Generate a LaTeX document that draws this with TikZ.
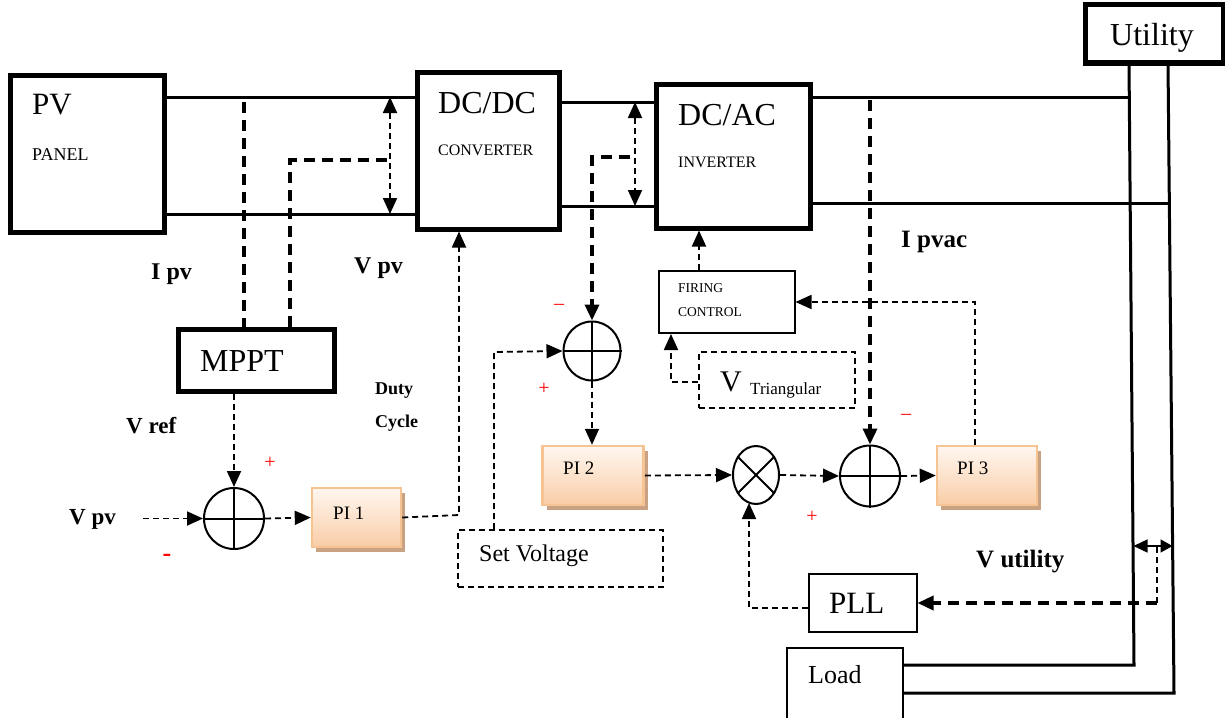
\documentclass[tikz,border=0pt]{standalone}
\usepackage{fontspec}
\setmainfont{Liberation Serif}
\usetikzlibrary{shapes.geometric,arrows.meta,shadows}
\definecolor{pitop}{HTML}{FFF7F0}
\definecolor{pibot}{HTML}{F9CDA7}
\definecolor{piborder}{HTML}{F6C393}
\definecolor{pishadow}{HTML}{C9A283}
\tikzset{
  thickbox/.style={draw, line width=5pt, inner sep=0pt},
  thinbox/.style={draw, line width=2pt, inner sep=0pt},
  pwr/.style={line width=3pt},
  dsh/.style={line width=1.8pt, dash pattern=on 6pt off 4pt},
  dshthick/.style={line width=3.5pt, dash pattern=on 11pt off 7pt},
  tip/.style={-{Triangle[length=16pt,width=14pt]}},
  dtip/.style={{Triangle[length=16pt,width=14pt]}-{Triangle[length=16pt,width=14pt]}},
  sumnode/.style={draw, ellipse, line width=2pt, inner sep=0pt},
  pibox/.style={draw=piborder, line width=2.5pt, top color=pitop, bottom color=pibot, inner sep=0pt,
     drop shadow={shadow xshift=4pt, shadow yshift=-5pt, fill=pishadow, opacity=1}},
  txt/.style={anchor=west, inner sep=0pt},
  lbl/.style={anchor=west, inner sep=0pt, font=\fontsize{24}{26}\selectfont\bfseries},
  sgn/.style={inner sep=0pt, text=red, font=\fontsize{20}{22}\selectfont},
}
\begin{document}
\begin{tikzpicture}[x=1pt,y=-1pt]
\useasboundingbox (0,0) rectangle (1225,717);
\clip (0,0) rectangle (1225,717);

% ---- blocks
\node[thickbox, minimum width=154pt, minimum height=157pt] (pv) at (87,153.5) {};
\node[thickbox, minimum width=142pt, minimum height=157pt] (dcdc) at (488,150.5) {};
\node[thickbox, minimum width=154pt, minimum height=144pt] (dcac) at (733,156) {};
\node[thickbox, minimum width=138pt, minimum height=58pt] (util) at (1154,34) {};
\node[thickbox, minimum width=156pt, minimum height=62pt] (mppt) at (256,360) {};
\node[thinbox, minimum width=136pt, minimum height=62pt] (fc) at (726.5,302) {};
\node[thinbox, minimum width=108pt, minimum height=58pt] (pll) at (862.5,603) {};
\node[thinbox, minimum width=116pt, minimum height=82pt] (load) at (845,689) {};
\node[draw, dsh, inner sep=0pt, minimum width=156pt, minimum height=56pt] (vtri) at (777,380) {};
\node[draw, dsh, inner sep=0pt, minimum width=205pt, minimum height=57pt] (setv) at (560.5,558.5) {};
\node[sumnode, minimum width=60pt, minimum height=61pt] (s1) at (234,518.5) {};
\node[sumnode, minimum width=57pt, minimum height=59pt] (s2) at (592,351) {};
\node[sumnode, minimum width=60pt, minimum height=61pt] (s3) at (870,476) {};
\node[sumnode, minimum width=46pt, minimum height=58pt] (mul) at (756,475) {};
\node[pibox, minimum width=89pt, minimum height=59pt] (pi1) at (356.5,517.5) {};
\node[pibox, minimum width=101pt, minimum height=59pt] (pi2) at (593,475.5) {};
\node[pibox, minimum width=100pt, minimum height=59pt] (pi3) at (987,475.5) {};

% crosses in summing junctions
\foreach \s in {s1,s2,s3}{
  \draw[line width=2pt] (\s.north) -- (\s.south);
  \draw[line width=2pt] (\s.west) -- (\s.east);
}
\draw[line width=2pt] (mul.45) -- (mul.225);
\draw[line width=2pt] (mul.135) -- (mul.315);

% ---- power lines
\draw[pwr] (pv.east |- 0,97) -- (dcdc.west |- 0,97);
\draw[pwr] (pv.east |- 0,214) -- (dcdc.west |- 0,214);
\draw[pwr] (dcdc.east |- 0,102) -- (dcac.west |- 0,102);
\draw[pwr] (dcdc.east |- 0,206) -- (dcac.west |- 0,206);
\coordinate (uiA) at (1129,63);
\coordinate (uiB) at (1134,665);
\coordinate (uoA) at (1168,63);
\coordinate (uoB) at (1174,693);
\coordinate (uiT) at (1129.6,97);
\coordinate (uoT) at (1169,203);
\draw[pwr] (uiA) -- (uiB) -- (load.east |- uiB);
\draw[pwr] (uoA) -- (uoB) -- (load.east |- uoB);
\draw[pwr] (dcac.east |- uiT) -- (uiT);
\draw[pwr] (dcac.east |- uoT) -- (uoT);

% ---- measurement / control connectors
\coordinate (ipvT) at (244,102);
\draw[dshthick] (ipvT) -- (ipvT |- mppt.north);
\coordinate (vpvA) at (290,160);
\coordinate (vpvB) at (388,160);
\draw[dshthick] (vpvA |- mppt.north) -- (vpvA) -- (vpvB);
\coordinate (dA) at (390,97);
\coordinate (dB) at (390,214);
\draw[dsh, dtip] (dA) -- (dB);
\coordinate (eA) at (635,102);
\coordinate (eB) at (635,206);
\draw[dsh, dtip] (eA) -- (eB);

\draw[dsh, tip] (s1.north |- mppt.south) -- (s1.north);
\coordinate (vpvIn) at (143,518.5);
\draw[dsh, tip] (vpvIn) -- (s1.west);
\draw[dsh, tip] (s1.east) -- (pi1.west);
\coordinate (duty) at (459,515);
\draw[dsh, tip] (pi1.east) -- (duty) -- (duty |- dcdc.south);

\coordinate (svT) at (494,352);
\draw[dsh, tip] (svT |- setv.north) -- (svT) -- (s2.west);
\coordinate (dcS) at (630,157);
\draw[dshthick, tip] (dcS) -- (s2.north |- dcS) -- (s2.north);
\draw[dsh, tip] (s2.south) -- (s2.south |- pi2.north);
\draw[dsh, tip] (pi2.east) -- (mul.west);
\draw[dsh, tip] (mul.east) -- (s3.west);
\draw[dsh, tip] (s3.east) -- (pi3.west);
\coordinate (p3T) at (975,302);
\draw[dsh, tip] (p3T |- pi3.north) -- (p3T) -- (fc.east);
\coordinate (ipvacT) at (870,100);
\draw[dshthick, tip] (ipvacT) -- (s3.north);
\coordinate (fcA) at (699,302);
\draw[dsh, tip] (fcA |- fc.north) -- (fcA |- dcac.south);
\coordinate (vtA) at (671,382);
\draw[dsh, tip] (vtri.west |- vtA) -- (vtA) -- (vtA |- fc.south);
\coordinate (pllA) at (749,608);
\draw[dsh, tip] (pll.west |- pllA) -- (pllA) -- (749,503);
\coordinate (vu) at (1157,603);
\coordinate (vuT) at (1157,546);
\coordinate (vuL) at (1133.5,546);
\coordinate (vuR) at (1172.5,546);
\draw[dshthick, tip] (vu) -- (pll.east);
\draw[dsh] (vu) -- (vuT);
\draw[-{Triangle[length=14pt,width=13pt]}, line width=1.5pt] (vuT) -- (vuL);
\draw[-{Triangle[length=12pt,width=13pt]}, line width=1.5pt] (vuT) -- (vuR);

% ---- texts
\node[txt, font=\fontsize{31}{33}\selectfont] (tPV) at (32,105) {PV};
\node[txt, font=\fontsize{18}{20}\selectfont] (tPanel) at (32,155) {PANEL};
\node[txt, font=\fontsize{32}{34}\selectfont] (tDCDC) at (438,103) {DC/DC};
\node[txt, font=\fontsize{16}{18}\selectfont] (tConv) at (438,150) {CONVERTER};
\node[txt, font=\fontsize{32}{34}\selectfont] (tDCAC) at (678,115) {DC/AC};
\node[txt, font=\fontsize{16}{18}\selectfont] (tInv) at (678,162) {INVERTER};
\node[txt, font=\fontsize{13.5}{15}\selectfont] (tFir) at (678,288) {FIRING};
\node[txt, font=\fontsize{13.5}{15}\selectfont] (tCtl) at (678,312) {CONTROL};
\node[txt, font=\fontsize{30}{32}\selectfont] (tV) at (720,382) {V};
\node[txt, font=\fontsize{17}{19}\selectfont] (tTri) at (750,390) {Triangular};
\node[txt, font=\fontsize{32}{34}\selectfont] (tUtil) at (1110,38) {Utility};
\node[txt, font=\fontsize{32}{34}\selectfont] (tMPPT) at (200,361) {MPPT};
\node[txt, font=\fontsize{19}{21}\selectfont] (tPI1) at (333,513) {PI 1};
\node[txt, font=\fontsize{19}{21}\selectfont] (tPI2) at (563,468) {PI 2};
\node[txt, font=\fontsize{19}{21}\selectfont] (tPI3) at (957,468) {PI 3};
\node[txt, font=\fontsize{24}{26}\selectfont] (tSet) at (479,556) {Set Voltage};
\node[txt, font=\fontsize{31}{33}\selectfont] (tPLL) at (829,603) {PLL};
\node[txt, font=\fontsize{26}{28}\selectfont] (tLoad) at (808,675) {Load};

\node[lbl] (lIpv) at (151,274) {I pv};
\node[lbl] (lVpvT) at (354,268) {V pv};
\node[lbl, font=\fontsize{23}{25}\selectfont\bfseries] (lVref) at (126,426) {V ref};
\node[lbl, font=\fontsize{23}{25}\selectfont\bfseries] (lVpvB) at (69,519) {V pv};
\node[lbl, font=\fontsize{18}{20}\selectfont\bfseries] (lDuty) at (375,391) {Duty};
\node[lbl, font=\fontsize{18}{20}\selectfont\bfseries] (lCyc) at (375,423) {Cycle};
\node[lbl, font=\fontsize{25}{27}\selectfont\bfseries] (lIpvac) at (901,242) {I pvac};
\node[lbl, font=\fontsize{25}{27}\selectfont\bfseries] (lVut) at (976,562) {V utility};

% ---- signs
\node[sgn] (p1) at (270,463) {+};
\node[sgn, font=\fontsize{26}{28}\selectfont\bfseries] (m1) at (167,558) {-};
\node[sgn] (m2) at (559,307) {–};
\node[sgn] (p2) at (544,389) {+};
\node[sgn] (m3) at (906,417) {–};
\node[sgn] (p3) at (812,517) {+};
\end{tikzpicture}
\end{document}
